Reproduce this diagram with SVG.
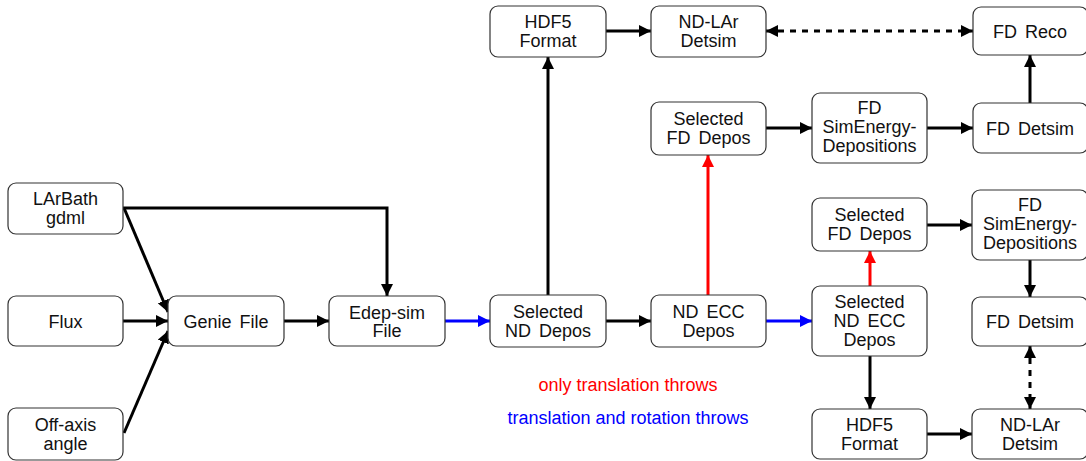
<svg xmlns="http://www.w3.org/2000/svg" width="1086" height="461" viewBox="0 0 1086 461">
<style>
.box{fill:#fff;stroke:#333;stroke-width:1.2}
.t{font-family:"Liberation Sans",Arial,sans-serif;font-size:18px;fill:#111;text-anchor:middle;word-spacing:3px}
.c{fill:none;stroke:#000;stroke-width:3}
.red{stroke:#f00}
.blue{stroke:#00f}
.dash{stroke-dasharray:6 6}
.lbl{font-family:"Liberation Sans",Arial,sans-serif;font-size:18px;text-anchor:middle}
</style>
<defs>
<marker id="ak" markerUnits="userSpaceOnUse" markerWidth="14" markerHeight="14" refX="12" refY="6" orient="auto-start-reverse"><path d="M0,0 L12,6 L0,12 z" fill="#000"/></marker>
<marker id="ar" markerUnits="userSpaceOnUse" markerWidth="14" markerHeight="14" refX="12" refY="6" orient="auto-start-reverse"><path d="M0,0 L12,6 L0,12 z" fill="#f00"/></marker>
<marker id="ab" markerUnits="userSpaceOnUse" markerWidth="14" markerHeight="14" refX="12" refY="6" orient="auto-start-reverse"><path d="M0,0 L12,6 L0,12 z" fill="#00f"/></marker>
</defs>
<rect width="1086" height="461" fill="#fff"/>

<g id="connectors">
<path class="c" d="M123,208 H387 V296" marker-end="url(#ak)"/>
<path class="c" d="M124,208 L168,312" marker-end="url(#ak)"/>
<path class="c" d="M123,321 H168" marker-end="url(#ak)"/>
<path class="c" d="M124,433 L168,331" marker-end="url(#ak)"/>
<path class="c" d="M284,321 H329" marker-end="url(#ak)"/>
<path class="c blue" d="M445,321 H490" marker-end="url(#ab)"/>
<path class="c" d="M548,295 V57" marker-end="url(#ak)"/>
<path class="c" d="M606,31 H651" marker-end="url(#ak)"/>
<path class="c dash" d="M766,31 H973" marker-start="url(#ak)" marker-end="url(#ak)"/>
<path class="c" d="M606,321 H651" marker-end="url(#ak)"/>
<path class="c red" d="M708,295 V155" marker-end="url(#ar)"/>
<path class="c" d="M766,128 H812" marker-end="url(#ak)"/>
<path class="c" d="M927,128 H973" marker-end="url(#ak)"/>
<path class="c" d="M1030,103 V55" marker-end="url(#ak)"/>
<path class="c blue" d="M766,321 H812" marker-end="url(#ab)"/>
<path class="c red" d="M870,286 V251" marker-end="url(#ar)"/>
<path class="c" d="M927,225 H972" marker-end="url(#ak)"/>
<path class="c" d="M1030,260 V297" marker-end="url(#ak)"/>
<path class="c dash" d="M1030,346 V409" marker-start="url(#ak)" marker-end="url(#ak)"/>
<path class="c" d="M870,356 V409" marker-end="url(#ak)"/>
<path class="c" d="M927,434 H972" marker-end="url(#ak)"/>
</g>

<g id="n-larbath"><rect class="box" x="8" y="183" width="115" height="51" rx="8"/><text class="t" x="65.5" y="205">LArBath</text><text class="t" x="65.5" y="224">gdml</text></g>
<g id="n-flux"><rect class="box" x="8" y="296" width="115" height="50" rx="8"/><text class="t" x="65.5" y="327.5">Flux</text></g>
<g id="n-offaxis"><rect class="box" x="8" y="408" width="115" height="52" rx="8"/><text class="t" x="65.5" y="431">Off-axis</text><text class="t" x="65.5" y="450">angle</text></g>
<g id="n-genie"><rect class="box" x="168" y="296" width="116" height="50" rx="8"/><text class="t" x="226" y="327.5">Genie File</text></g>
<g id="n-edep"><rect class="box" x="329" y="296" width="116" height="50" rx="8"/><text class="t" x="387" y="319">Edep-sim</text><text class="t" x="387" y="337">File</text></g>
<g id="n-selnd"><rect class="box" x="490" y="295" width="116" height="52" rx="8"/><text class="t" x="548" y="318">Selected</text><text class="t" x="548" y="337">ND Depos</text></g>
<g id="n-ndecc"><rect class="box" x="651" y="295" width="115" height="52" rx="8"/><text class="t" x="708.5" y="318">ND ECC</text><text class="t" x="708.5" y="337">Depos</text></g>
<g id="n-hdf5-top"><rect class="box" x="490" y="6" width="116" height="51" rx="8"/><text class="t" x="548" y="28">HDF5</text><text class="t" x="548" y="47">Format</text></g>
<g id="n-ndlar-top"><rect class="box" x="651" y="6" width="115" height="51" rx="8"/><text class="t" x="708.5" y="28">ND-LAr</text><text class="t" x="708.5" y="47">Detsim</text></g>
<g id="n-selfd-top"><rect class="box" x="651" y="102" width="115" height="53" rx="8"/><text class="t" x="708.5" y="125">Selected</text><text class="t" x="708.5" y="144">FD Depos</text></g>
<g id="n-fdreco"><rect class="box" x="973" y="7" width="115" height="48" rx="8"/><text class="t" x="1030" y="37.5">FD Reco</text></g>
<g id="n-fdsim-top"><rect class="box" x="812" y="93" width="115" height="70" rx="8"/><text class="t" x="869.5" y="114">FD</text><text class="t" x="869.5" y="133">SimEnergy-</text><text class="t" x="869.5" y="152">Depositions</text></g>
<g id="n-fddet-top"><rect class="box" x="973" y="103" width="115" height="50" rx="8"/><text class="t" x="1030" y="134.5">FD Detsim</text></g>
<g id="n-selfd-bot"><rect class="box" x="812" y="198" width="115" height="53" rx="8"/><text class="t" x="869.5" y="221">Selected</text><text class="t" x="869.5" y="240">FD Depos</text></g>
<g id="n-fdsim-bot"><rect class="box" x="972" y="190" width="116" height="70" rx="8"/><text class="t" x="1030" y="211">FD</text><text class="t" x="1030" y="230">SimEnergy-</text><text class="t" x="1030" y="249">Depositions</text></g>
<g id="n-selndecc"><rect class="box" x="812" y="286" width="115" height="70" rx="8"/><text class="t" x="869.5" y="308">Selected</text><text class="t" x="869.5" y="327">ND ECC</text><text class="t" x="869.5" y="346">Depos</text></g>
<g id="n-fddet-bot"><rect class="box" x="972" y="297" width="116" height="49" rx="8"/><text class="t" x="1030" y="328">FD Detsim</text></g>
<g id="n-hdf5-bot"><rect class="box" x="812" y="409" width="115" height="50" rx="8"/><text class="t" x="869.5" y="431">HDF5</text><text class="t" x="869.5" y="450">Format</text></g>
<g id="n-ndlar-bot"><rect class="box" x="972" y="409" width="116" height="50" rx="8"/><text class="t" x="1030" y="431">ND-LAr</text><text class="t" x="1030" y="450">Detsim</text></g>

<text class="lbl" x="628" y="391" fill="#f00">only translation throws</text>
<text class="lbl" x="628" y="424" fill="#00f">translation and rotation throws</text>
</svg>
